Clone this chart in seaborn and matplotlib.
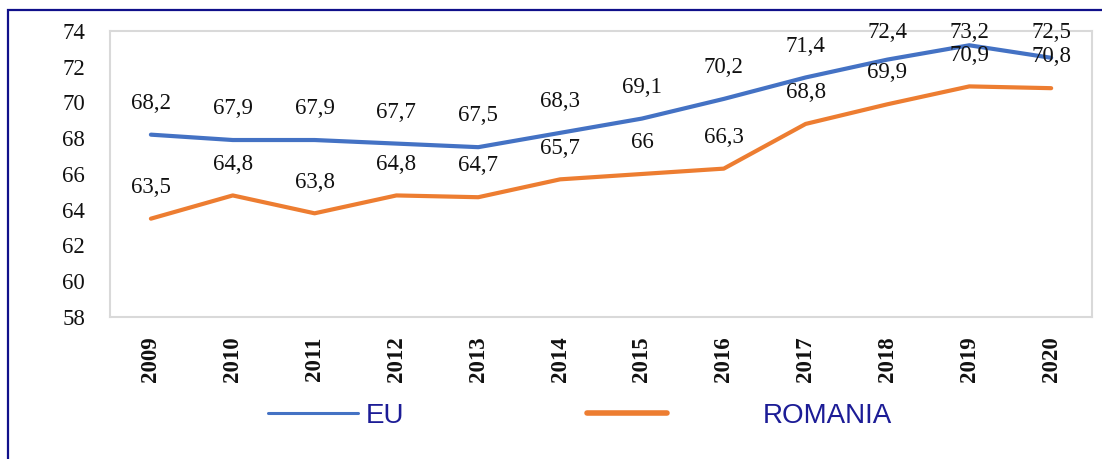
import matplotlib
matplotlib.use("Agg")
import matplotlib.pyplot as plt
from matplotlib.lines import Line2D
from matplotlib.patches import Rectangle
import seaborn as sns
import pandas as pd

# ── Data ──────────────────────────────────────────────────────────────────────
YEARS = ["2009", "2010", "2011", "2012", "2013", "2014",
         "2015", "2016", "2017", "2018", "2019", "2020"]
EU = [68.2, 67.9, 67.9, 67.7, 67.5, 68.3, 69.1, 70.2, 71.4, 72.4, 73.2, 72.5]
ROMANIA = [63.5, 64.8, 63.8, 64.8, 64.7, 65.7, 66, 66.3, 68.8, 69.9, 70.9, 70.8]
Y_TICKS = [58, 60, 62, 64, 66, 68, 70, 72, 74]

BLUE = "#4472C4"
ORANGE = "#ED7D31"
NAVY = "#1C1C96"
SPINE_C = "#D9D9D9"

sns.set_style("white")
plt.rcParams["font.family"] = ["Liberation Serif", "DejaVu Serif"]

df = pd.DataFrame({
    "Year": YEARS * 2,
    "Value": EU + ROMANIA,
    "Series": ["EU"] * len(YEARS) + ["ROMANIA"] * len(YEARS),
})

fig = plt.figure(figsize=(11.02, 4.59), dpi=100)
ax = fig.add_axes([0.0998, 0.3094, 0.8912, 0.6231])

sns.lineplot(data=df, x="Year", y="Value", hue="Series",
             palette={"EU": BLUE, "ROMANIA": ORANGE}, linewidth=3.0,
             ax=ax, legend=False, sort=False)
for ln in ax.lines:
    ln.set_solid_capstyle("round")
    ln.set_solid_joinstyle("round")

ax.set_xlim(-0.5, len(YEARS) - 0.5)
ax.set_ylim(58, 74)
ax.set_yticks(Y_TICKS)
ax.set_yticklabels([str(t) for t in Y_TICKS], fontsize=16.5)
ax.set_xticks(range(len(YEARS)))
ax.set_xticklabels(YEARS, rotation=90, fontsize=16.5, fontweight="bold")
ax.tick_params(axis="y", length=0, pad=18, colors="#111111")
ax.tick_params(axis="x", length=0, pad=14, colors="#111111")
ax.set_xlabel("")
ax.set_ylabel("")
ax.grid(False)
for spine in ax.spines.values():
    spine.set_edgecolor(SPINE_C)
    spine.set_linewidth(1.5)


def fmt(v):
    return f"{v:g}".replace(".", ",")


# data labels above points, kept inside the chart area like Excel does
for series in (EU, ROMANIA):
    for i, v in enumerate(series):
        ax.text(i, min(v + 1.75, 73.92), fmt(v), ha="center", va="center",
                fontsize=16.5, color="#111111", clip_on=False)

# legend (two separate entries, as in the original spacing)
eu_h = Line2D([], [], color=BLUE, linewidth=2.2)
ro_h = Line2D([], [], color=ORANGE, linewidth=4)
leg_kw = dict(loc="center left", frameon=False, borderpad=0, borderaxespad=0,
              prop={"family": "Liberation Sans", "size": 20})
leg1 = fig.legend(handles=[eu_h], labels=["EU"],
                  bbox_to_anchor=(0.243, 0.094),
                  handlelength=3.24, handletextpad=0.3, **leg_kw)
leg2 = fig.legend(handles=[ro_h], labels=["ROMANIA"],
                  bbox_to_anchor=(0.533, 0.094),
                  handlelength=2.88, handletextpad=3.42, **leg_kw)
for leg in (leg1, leg2):
    for t in leg.get_texts():
        t.set_color(NAVY)

# outer border of the chart frame
fig.patches.append(Rectangle((8 / 1102, -0.05), 1.2, 1 - 10 / 459 + 0.05,
                             transform=fig.transFigure, fill=False,
                             edgecolor="#10108A", linewidth=1.6))

fig.savefig("out.png", dpi=100, facecolor="white")
